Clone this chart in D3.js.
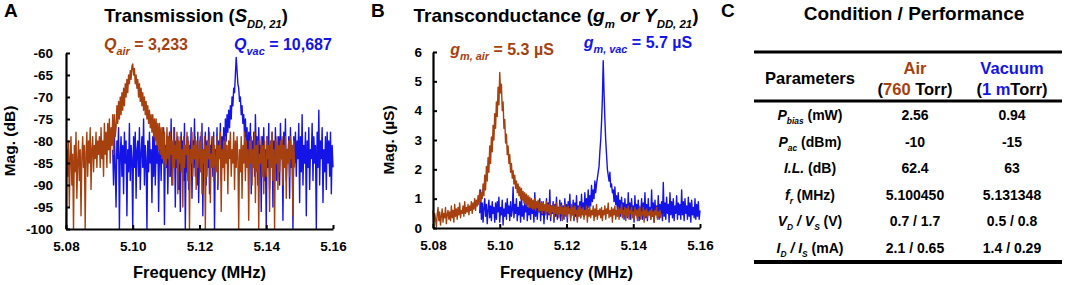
<!DOCTYPE html>
<html>
<head>
<meta charset="utf-8">
<script src="https://cdn.jsdelivr.net/npm/d3@7"></script>
<style>
  body { margin: 0; background: #fff; }
  svg { font-family: "Liberation Sans", Arial, sans-serif; font-weight: bold; }
  .line { fill: none; stroke-width: 1.4; stroke-linejoin: round; }
</style>
</head>
<body>
<script>
// colours
const AIR = "#a6410f", VAC = "#1414e6";

// frequency grid of the traces (MHz)
const fStep = 0.00025;
const airStart = 5.080, vacStart = 5.094;

// A: S_DD,21 in dB (air: 5.080 -> 5.1485, vac: 5.094 -> 5.160), one row = 5 kHz
const s21Air = [
  -100, -82, -88, -80, -95, -84, -79, -90, -83, -100, -81, -87, -78, -93, -85, -80, -89, -82, -97, -84,
  -79, -86, -81, -100, -83, -78, -88, -80, -85, -77, -91, -82, -79, -87, -81, -84, -78, -86, -80, -83,
  -79, -86, -77, -84, -80, -88, -76, -83, -78, -86, -76, -82, -75, -85, -77, -81, -74, -83, -74, -79,
  -77, -72, -76, -71, -75, -70, -74, -69, -73, -68, -72, -67, -70, -66, -69, -65, -67, -64, -66, -63,
  -62.5, -65, -63.5, -67, -65, -68, -66, -70, -67, -71, -68, -72, -69, -73, -70, -74, -71, -75, -72, -76,
  -73, -77, -74, -78, -74, -79, -75, -80, -75, -81, -76, -82, -76, -83, -77, -84, -77, -85, -78, -86,
  -85, -77, -84, -79, -88, -78, -83, -80, -90, -77, -86, -81, -84, -78, -92, -80, -85, -79, -87, -82,
  -95, -79, -86, -81, -83, -78, -89, -80, -100, -82, -85, -78, -88, -81, -84, -79, -91, -80, -86, -83,
  -80, -87, -78, -92, -82, -85, -79, -100, -81, -88, -80, -84, -78, -94, -83, -86, -79, -89, -81, -85,
  -87, -79, -90, -81, -84, -78, -96, -82, -86, -80, -89, -79, -85, -81, -92, -80, -84, -78, -88, -82,
  -85, -78, -91, -80, -86, -79, -84, -100, -82, -87, -79, -93, -81, -85, -78, -89, -80, -86, -82, -98,
  -80, -85, -79, -90, -82, -86, -78, -94, -81, -87, -80, -100, -83, -85, -79, -88, -81, -92, -80, -86,
  -88, -79, -84, -81, -96, -80, -86, -78, -89, -82, -100, -80, -85, -79, -91, -81, -87, -80, -84, -79,
  -90, -81, -86, -79, -93, -82, -85, -80, -88, -79, -84, -81, -97, -80, -86
];
const s21Vac = [
  -82, -90, -78, -86, -95, -80, -84, -77, -100, -83, -79, -88, -81, -92, -78, -85, -80, -97, -82, -87,
  -76, -89, -81, -84, -100, -79, -86, -78, -93, -82, -80, -88, -77, -91, -83, -79, -86, -75, -90, -81,
  -84, -100, -80, -87, -78, -85, -82, -94, -79, -88, -76, -90, -81, -85, -78, -96, -83, -80, -89, -79,
  -85, -77, -99, -81, -86, -79, -92, -83, -78, -88, -75, -90, -82, -84, -77, -95, -80, -86, -79, -91,
  -82, -96, -78, -85, -80, -89, -76, -100, -83, -87, -79, -91, -81, -84, -77, -93, -80, -86, -75, -88,
  -81, -90, -78, -94, -83, -79, -87, -76, -97, -82, -85, -78, -90, -80, -86, -77, -92, -81, -84, -79,
  -88, -78, -100, -82, -86, -77, -91, -80, -84, -76, -89, -79, -83, -77, -85, -75, -80, -74, -78, -73,
  -77, -72, -75, -70, -72, -68, -69, -65, -61, -64, -67, -68, -71, -70, -74, -72, -76, -74, -79, -75,
  -81, -77, -86, -78, -84, -76, -92, -80, -85, -78, -88, -74, -83, -79, -90, -77, -85, -81, -96, -79,
  -84, -77, -89, -82, -100, -79, -86, -76, -91, -81, -84, -78, -95, -80, -87, -77, -89, -82, -85, -79,
  -90, -76, -84, -80, -98, -78, -86, -75, -89, -82, -84, -79, -93, -77, -86, -81, -100, -79, -85, -78,
  -88, -80, -84, -76, -94, -79, -87, -74, -90, -81, -85, -78, -97, -80, -86, -77, -91, -82, -84, -76,
  -89, -79, -85, -81, -100, -78, -86, -73, -90, -80, -84, -77, -94, -82, -87, -79, -91, -78, -85, -80,
  -88, -78, -92, -81, -86
];

// B: g_m in uS, same grids
const gmAir = [
  0.6, 0.15, 0.5, 0.3, 0.05, 0.45, 0.7, 0.25, 0.55, 0.1, 0.4, 0.65, 0.2, 0.5, 0.35, 0.7, 0.15, 0.45, 0.6, 0.3,
  0.55, 0.25, 0.75, 0.35, 0.6, 0.2, 0.8, 0.4, 0.65, 0.3, 0.7, 0.45, 0.85, 0.35, 0.6, 0.5, 0.75, 0.4, 0.9, 0.5,
  0.7, 0.55, 0.8, 0.45, 0.75, 0.6, 0.9, 0.5, 0.85, 0.65, 1.0, 0.6, 0.95, 0.75, 1.1, 0.8, 1.3, 0.9, 1.2, 1.0,
  1.5, 1.1, 1.8, 1.3, 2.1, 1.6, 2.4, 1.9, 2.8, 2.2, 3.1, 2.6, 3.5, 3.0, 3.9, 3.4, 4.3, 3.8, 4.8, 4.2,
  5.3, 4.6, 4.9, 4.0, 4.3, 3.4, 3.7, 2.9, 3.2, 2.5, 2.8, 2.2, 2.5, 1.9, 2.2, 1.7, 1.95, 1.5, 1.8, 1.35,
  1.6, 1.2, 1.5, 1.1, 1.4, 1.0, 1.35, 0.95, 1.25, 0.85, 1.2, 0.8, 1.15, 0.75, 1.1, 0.7, 1.05, 0.7, 1.0, 0.65,
  0.95, 0.65, 1.0, 0.6, 0.9, 0.7, 0.95, 0.55, 0.85, 0.6, 0.9, 0.5, 0.85, 0.6, 0.8, 0.45, 0.9, 0.55, 0.8, 0.5,
  0.85, 0.4, 0.75, 0.55, 0.8, 0.3, 0.75, 0.5, 0.85, 0.45, 0.7, 0.35, 0.8, 0.5, 0.75, 0.25, 0.7, 0.45, 0.8, 0.4,
  0.7, 0.35, 0.75, 0.5, 0.65, 0.25, 0.8, 0.45, 0.7, 0.3, 0.75, 0.5, 0.6, 0.2, 0.7, 0.4, 0.75, 0.35, 0.65, 0.45,
  0.7, 0.3, 0.6, 0.45, 0.75, 0.2, 0.65, 0.4, 0.7, 0.35, 0.6, 0.45, 0.75, 0.25, 0.65, 0.4, 0.8, 0.3, 0.6, 0.45,
  0.65, 0.35, 0.7, 0.25, 0.6, 0.45, 0.75, 0.3, 0.65, 0.5, 0.85, 0.35, 0.6, 0.4, 0.7, 0.2, 0.65, 0.45, 0.75, 0.3,
  0.6, 0.4, 0.7, 0.3, 0.65, 0.5, 0.8, 0.35, 0.6, 0.45, 0.7, 0.25, 0.65, 0.4, 0.75, 0.3, 0.6, 0.5, 0.7, 0.35,
  0.55, 0.3, 0.7, 0.45, 0.6, 0.25, 0.65, 0.4, 0.75, 0.3, 0.55, 0.45, 0.7, 0.2, 0.6, 0.4, 0.65, 0.35, 0.55, 0.45,
  0.6, 0.3, 0.65, 0.4, 0.55, 0.2, 0.6, 0.45, 0.7, 0.3, 0.55, 0.4, 0.6, 0.35, 0.5
];
const gmVac = [
  0.5, 1.3, 0.3, 0.85, 0.2, 0.7, 1.0, 0.4, 0.8, 0.15, 0.6, 0.95, 0.35, 0.75, 0.25, 0.9, 0.5, 0.7, 0.2, 0.85,
  0.3, 0.9, 0.55, 1.05, 0.2, 0.7, 0.45, 0.95, 0.1, 0.65, 0.4, 0.85, 0.3, 1.0, 0.5, 0.75, 0.25, 0.9, 0.4, 0.6,
  1.4, 0.35, 0.8, 0.5, 1.0, 0.25, 0.7, 0.45, 0.9, 0.2, 1.1, 0.4, 0.75, 0.3, 0.85, 0.55, 1.0, 0.25, 0.7, 0.45,
  0.8, 0.3, 0.95, 0.5, 0.75, 0.2, 1.2, 0.4, 0.85, 0.3, 0.7, 0.55, 1.0, 0.25, 0.8, 0.45, 0.9, 0.15, 0.7, 0.5,
  1.0, 0.3, 0.85, 0.45, 1.3, 0.25, 0.75, 0.5, 0.9, 0.2, 0.8, 0.4, 1.05, 0.3, 0.7, 0.5, 0.95, 0.25, 0.85, 0.4,
  0.75, 0.3, 1.0, 0.45, 0.8, 0.2, 0.9, 0.5, 1.15, 0.35, 0.7, 0.45, 0.95, 0.25, 0.85, 0.4, 1.1, 0.3, 0.75, 0.5,
  0.9, 0.35, 1.15, 0.5, 0.85, 0.4, 1.2, 0.55, 1.0, 0.6, 1.3, 0.7, 1.1, 0.75, 1.45, 0.9, 1.3, 1.0, 1.6, 1.2,
  1.5, 1.7, 1.9, 2.1, 2.6, 3.0, 3.6, 4.4, 5.7, 4.6, 3.7, 3.0, 2.5, 2.0, 1.8, 1.6, 1.9, 1.4, 1.5, 1.2,
  1.3, 0.9, 1.4, 0.8, 1.1, 0.6, 1.2, 0.5, 0.95, 0.4, 1.05, 0.5, 0.85, 0.3, 1.0, 0.45, 0.8, 0.35, 1.2, 0.4,
  0.85, 0.3, 1.0, 0.5, 0.75, 0.2, 1.1, 0.45, 0.8, 0.35, 0.95, 0.25, 0.7, 0.5, 1.0, 0.3, 0.85, 0.4, 1.2, 0.35,
  0.8, 0.25, 1.0, 0.45, 0.7, 0.3, 1.3, 0.4, 0.85, 0.2, 0.95, 0.5, 0.75, 0.35, 1.1, 0.3, 0.8, 0.5, 0.9, 0.25,
  1.55, 0.4, 0.85, 0.3, 1.05, 0.5, 0.8, 0.2, 1.2, 0.45, 0.9, 0.35, 1.0, 0.25, 0.75, 0.5, 1.1, 0.3, 0.85, 0.45,
  0.8, 0.3, 1.3, 0.45, 0.9, 0.25, 1.0, 0.5, 0.75, 0.3, 1.05, 0.4, 0.85, 0.2, 0.95, 0.45, 0.7, 0.35, 1.0, 0.3,
  0.8, 0.4, 0.9, 0.3, 0.6
];

// ticks
const freqTicks = [5.08, 5.10, 5.12, 5.14, 5.16];
const dbTicks = [-60, -65, -70, -75, -80, -85, -90, -95, -100];
const usTicks = [0, 1, 2, 3, 4, 5, 6];

// C: table
const paramNames = [
  [{t: "P", i: 1}, {t: "bias", i: 1, sub: 1}, {t: " (mW)"}],
  [{t: "P", i: 1}, {t: "ac", i: 1, sub: 1}, {t: " (dBm)"}],
  [{t: "I.L.", i: 1}, {t: " (dB)"}],
  [{t: "f", i: 1}, {t: "r", i: 1, sub: 1}, {t: " (MHz)"}],
  [{t: "V", i: 1}, {t: "D", i: 1, sub: 1}, {t: " / ", i: 1}, {t: "V", i: 1}, {t: "S", i: 1, sub: 1}, {t: " (V)"}],
  [{t: "I", i: 1}, {t: "D", i: 1, sub: 1}, {t: " / ", i: 1}, {t: "I", i: 1}, {t: "S", i: 1, sub: 1}, {t: " (mA)"}]
];
const airValues = ["2.56", "-10", "62.4", "5.100450", "0.7 / 1.7", "2.1 / 0.65"];
const vacValues = ["0.94", "-15", "63", "5.131348", "0.5 / 0.8", "1.4 / 0.29"];

const svg = d3.select("body").append("svg")
  .attr("width", 1065)
  .attr("height", 285);

// text made of pieces (italic / subscript / colour)
function rich(x, y, parts, size, anchor, subScale) {
  const t = svg.append("text")
    .attr("x", x).attr("y", y)
    .attr("text-anchor", anchor || "middle")
    .style("font-size", size + "px");
  let shift = 0;
  parts.forEach(p => {
    const want = p.sub ? Math.round(size * 0.3) : 0;
    t.append("tspan")
      .attr("dy", want - shift)
      .style("font-style", p.i ? "italic" : "normal")
      .style("font-size", p.sub ? (size * (subScale || 0.68)) + "px" : null)
      .attr("fill", p.c || "#000")
      .text(p.t);
    shift = want;
  });
  return t;
}

function panel(cfg) {
  const x = d3.scaleLinear().domain([5.08, 5.16]).range([cfg.left, cfg.right]);
  const y = d3.scaleLinear().domain(cfg.yDomain).range([cfg.bottom, cfg.top]);

  const line = d3.line()
    .x(d => x(d.f))
    .y(d => y(d.v));

  // vacuum first, air drawn over it
  cfg.series.forEach(s => {
    const pts = s.values.map((v, i) => ({f: s.start + i * fStep, v: v}));
    svg.append("path")
      .attr("class", "line")
      .attr("stroke", s.color)
      .attr("d", line(pts));
  });

  const gx = svg.append("g")
    .attr("transform", `translate(0, ${cfg.bottom})`)
    .call(d3.axisBottom(x).tickValues(freqTicks).tickFormat(d3.format(".2f"))
      .tickSizeInner(-4).tickSizeOuter(0).tickPadding(12));
  const gy = svg.append("g")
    .attr("transform", `translate(${cfg.left}, 0)`)
    .call(d3.axisLeft(y).tickValues(cfg.yTicks).tickFormat(d => String(d))
      .tickSizeInner(-4).tickSizeOuter(0).tickPadding(cfg.yPad));
  [gx, gy].forEach(g => {
    g.select(".domain").attr("stroke-width", 2.2);
    g.selectAll(".tick line").attr("stroke-width", 2);
    g.selectAll("text").style("font-size", "13.5px").style("font-family", "inherit").style("font-weight", "bold");
  });

  svg.append("text")
    .attr("x", (cfg.left + cfg.right) / 2).attr("y", 278)
    .attr("text-anchor", "middle")
    .style("font-size", "16.5px")
    .text("Frequency (MHz)");
  svg.append("text")
    .attr("transform", `translate(${cfg.yLabelX}, ${(cfg.top + cfg.bottom) / 2}) rotate(-90)`)
    .attr("text-anchor", "middle")
    .style("font-size", "15.5px")
    .text(cfg.yLabel);
}

// panel A
panel({
  left: 66, right: 333, top: 53, bottom: 229,
  yDomain: [-100, -60], yTicks: dbTicks, yPad: 13, yLabelX: 15, yLabel: "Mag. (dB)",
  series: [
    {values: s21Vac, start: vacStart, color: VAC},
    {values: s21Air, start: airStart, color: AIR}
  ]
});
// panel B
panel({
  left: 433, right: 700, top: 52, bottom: 228,
  yDomain: [0, 6], yTicks: usTicks, yPad: 11, yLabelX: 394, yLabel: "Mag. (µS)",
  series: [
    {values: gmVac, start: vacStart, color: VAC},
    {values: gmAir, start: airStart, color: AIR}
  ]
});

// panel letters and titles
[["A", 4], ["B", 371], ["C", 721]].forEach(l => {
  svg.append("text").attr("x", l[1]).attr("y", 17).style("font-size", "19px").text(l[0]);
});
rich(196, 22, [{t: "Transmission ("}, {t: "S", i: 1}, {t: "DD, 21", i: 1, sub: 1}, {t: ")"}], 18.5, "middle", 0.6);
rich(556, 22, [{t: "Transconductance ("}, {t: "g", i: 1}, {t: "m", i: 1, sub: 1}, {t: " or Y", i: 1}, {t: "DD, 21", i: 1, sub: 1}, {t: ")"}], 19, "middle", 0.6);
rich(914, 20, [{t: "Condition / Performance"}], 19);

// annotations
rich(146, 50, [{t: "Q", i: 1, c: AIR}, {t: "air", i: 1, sub: 1, c: AIR}, {t: " = 3,233", c: AIR}], 16);
rich(283, 50, [{t: "Q", i: 1, c: VAC}, {t: "vac", i: 1, sub: 1, c: VAC}, {t: " = 10,687", c: VAC}], 16);
rich(502, 55, [{t: "g", i: 1, c: AIR}, {t: "m, air", i: 1, sub: 1, c: AIR}, {t: " = 5.3 µS", c: AIR}], 16);
rich(638, 48, [{t: "g", i: 1, c: VAC}, {t: "m, vac", i: 1, sub: 1, c: VAC}, {t: " = 5.7 µS", c: VAC}], 16);

// panel C table
const colX = [810, 915, 1012];
const rowY = d3.scalePoint().domain(d3.range(paramNames.length)).range([115, 248]);
[[52, 3], [101, 3], [262, 4]].forEach(r => {
  svg.append("line").attr("x1", 754).attr("x2", 1062).attr("y1", r[0]).attr("y2", r[0])
    .attr("stroke", "#000").attr("stroke-width", r[1]);
});
rich(colX[0], 84, [{t: "Parameters"}], 16.5);
rich(colX[1], 74, [{t: "Air", c: AIR}], 16.5);
rich(colX[1], 95, [{t: "("}, {t: "760", c: AIR}, {t: " Torr)"}], 16.5);
rich(colX[2], 74, [{t: "Vacuum", c: VAC}], 16.5);
rich(colX[2], 95, [{t: "("}, {t: "1 m", c: VAC}, {t: "Torr)"}], 16.5);
paramNames.forEach((p, i) => {
  const yy = rowY(i) + 5;
  rich(colX[0], yy, p, 14, "middle", 0.6);
  rich(colX[1], yy, [{t: airValues[i]}], 14);
  rich(colX[2], yy, [{t: vacValues[i]}], 14);
});
</script>
</body>
</html>
